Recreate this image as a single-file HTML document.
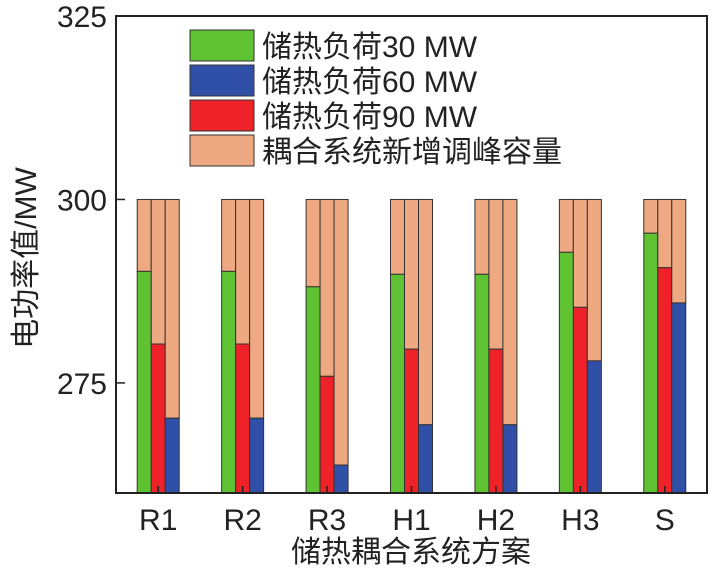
<!DOCTYPE html>
<html><head><meta charset="utf-8"><style>
body{margin:0;background:#fff;}
svg{display:block;font-family:"Liberation Sans","Noto Sans CJK SC",sans-serif;}
</style></head><body>
<svg id="chart" width="716" height="575"></svg>
<script>
const categories=["R1","R2","R3","H1","H2","H3","S"];
const load30=[290.2,290.2,288.1,289.8,289.8,292.8,295.4];
const load90=[280.3,280.3,275.9,279.6,279.6,285.3,290.7];
const load60=[270.2,270.2,263.8,269.3,269.3,278.0,285.9];
const total=300;
const yTicks=[275,300,325];
const NS="http://www.w3.org/2000/svg";
const svg=document.getElementById('chart');
const X0=116,X1=707,Y0=493,Y1=16,YMIN=260,YMAX=325;
const y=v=>Y0-(v-YMIN)*(Y0-Y1)/(YMAX-YMIN);
const band=(X1-X0)/categories.length;
const xc=i=>X0+band*(i+0.5);
function el(t,a,txt){const e=document.createElementNS(NS,t);for(const k in a)e.setAttribute(k,a[k]);if(txt!==undefined)e.textContent=txt;svg.appendChild(e);return e;}
const series=[[load30,"#5ec232","bar-30mw"],[load90,"#ee2228","bar-90mw"],[load60,"#3050a8","bar-60mw"]];
categories.forEach((c,i)=>{
  series.forEach((s,j)=>{
    const bx=xc(i)-21+j*14;
    const v=s[0][i];
    let r=el('rect',{x:bx,y:y(total),width:14,height:y(v)-y(total),fill:"#eea982",stroke:"#333","stroke-width":1});
    
    
    r=el('rect',{x:bx,y:y(v),width:14,height:Y0-y(v),fill:s[1],stroke:"#333","stroke-width":1});
    
    
  });
  let t=el('line',{x1:xc(i),x2:xc(i),y1:Y0,y2:Y0-7,stroke:"#222","stroke-width":1.5});
  
  
  t=el('text',{x:xc(i),y:530,"text-anchor":"middle","font-size":30,fill:"#222"},c);
  
  
});
yTicks.forEach(v=>{
  let t=el('line',{x1:X0,x2:X0+9,y1:y(v),y2:y(v),stroke:"#222","stroke-width":1.5});
  
  
  t=el('text',{x:107,y:y(v)+11,"text-anchor":"end","font-size":30,fill:"#222"},v);
  
  
});
let f=el('rect',{x:X0,y:Y1,width:X1-X0,height:Y0-Y1,fill:"none",stroke:"#222","stroke-width":2});


const legendLabels=["储热负荷30 MW","储热负荷60 MW","储热负荷90 MW","耦合系统新增调峰容量"];
const legendColors=["#5ec232","#3050a8","#ee2228","#eea982"];
legendLabels.forEach((l,k)=>{
  const ly=30+k*35;
  let r=el('rect',{x:190,y:ly,width:64,height:31,fill:legendColors[k],stroke:"#333","stroke-width":1});
  
  
  r=el('text',{x:262,y:ly+27,"font-size":30,fill:"#222"},l);
  
  
});
let a=el('text',{x:411,y:562,"text-anchor":"middle","font-size":30,fill:"#222"},"储热耦合系统方案");


a=el('text',{x:0,y:0,"text-anchor":"middle","font-size":30,fill:"#222",transform:"translate(36,258) rotate(-90)"},"电功率值/MW");


</script>
</body></html>
